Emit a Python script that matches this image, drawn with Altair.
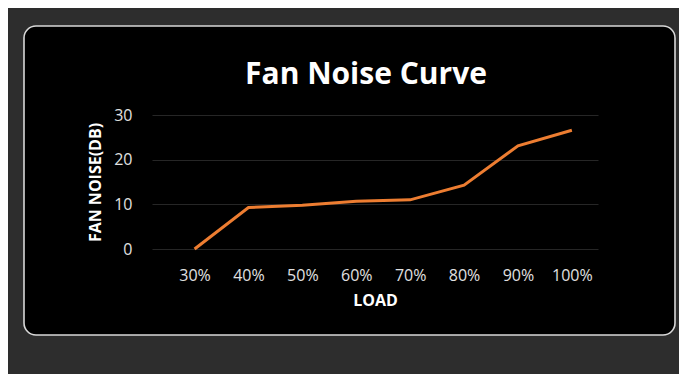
import altair as alt
import pandas as pd

loads = [30, 40, 50, 60, 70, 80, 90, 100]          # load, %
noise_db = [0, 9.3, 9.8, 10.7, 11.0, 14.3, 23.1, 26.6]
y_ticks = [0, 10, 20, 30]
title_text = ["Fan Noise Curve"]

df = pd.DataFrame({"load": loads, "noise": noise_db})
one = pd.DataFrame({"k": [0]})
tdf = pd.DataFrame({"t": title_text})

FONT = "Open Sans"
BG = "#2d2d2d"

# outer gray frame (thick stroke around the panel) so the panel interior stays black
frame = alt.Chart(one).mark_rect(
    filled=False, stroke=BG, strokeWidth=140, cornerRadius=82
).encode(
    x=alt.value(-128 - 70), x2=alt.value(523 + 70),
    y=alt.value(-89 - 70), y2=alt.value(220 + 70),
)

border = alt.Chart(one).mark_rect(
    filled=False, stroke="#d8d8d8", strokeWidth=1.6, cornerRadius=12
).encode(
    x=alt.value(-128), x2=alt.value(523),
    y=alt.value(-89), y2=alt.value(220),
)

title = alt.Chart(tdf).mark_text(
    font=FONT, fontSize=30, fontWeight="bold", color="white",
    align="center", baseline="alphabetic"
).encode(text="t:N", x=alt.value(214), y=alt.value(-31.5))

line = alt.Chart(df).mark_line(color="#ED7D31", strokeWidth=3).encode(
    x=alt.X("load:Q", title="LOAD",
            scale=alt.Scale(domain=[22.1, 104.85], nice=False, zero=False),
            axis=alt.Axis(values=loads, labelExpr="datum.value + '%'",
                          ticks=False, domain=False, grid=False,
                          labelPadding=18, titlePadding=9, labelFlush=False,
                          labelOverlap=False)),
    y=alt.Y("noise:Q", title="FAN NOISE(DB)",
            scale=alt.Scale(domain=[0, 30], nice=False),
            axis=alt.Axis(values=y_ticks, ticks=False, tickSize=0, domain=False,
                          grid=True, gridColor="#262626", gridWidth=1.2,
                          labelPadding=20, titlePadding=10)),
)

chart = alt.layer(frame, border, title, line).properties(
    width=446,
    height=134,
    background="black",
    padding={"left": 144, "top": 107, "right": 81, "bottom": 125},
    autosize=alt.AutoSizeParams(type="none"),
).configure_view(stroke=None).configure_axis(
    labelFont=FONT, labelFontSize=16, labelColor="#e0e0e0",
    titleFont=FONT, titleFontSize=16, titleFontWeight="bold", titleColor="white",
)

chart.save("out.html", embed_options={"renderer": "svg", "actions": False})
